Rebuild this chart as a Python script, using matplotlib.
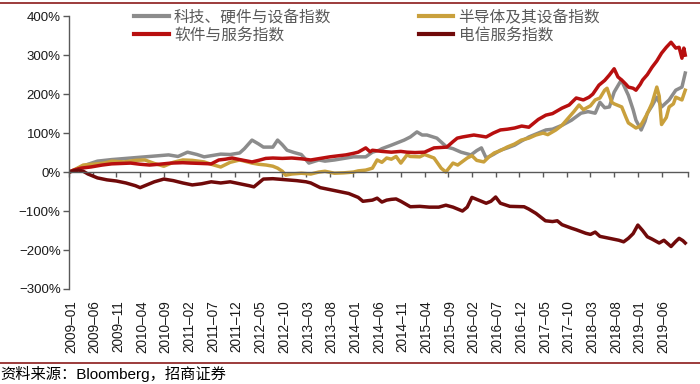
import matplotlib
matplotlib.use("Agg")
import matplotlib.pyplot as plt
import matplotlib.transforms as mtransforms
from matplotlib.lines import Line2D

plt.rcParams['font.family'] = ['Liberation Sans', 'Noto Sans CJK SC']
plt.rcParams['axes.unicode_minus'] = True

# 月份序号（0 = 2009-01）
tick_labels = ['2009–01', '2009–06', '2009–11', '2010–04', '2010–09', '2011–02',
               '2011–07', '2011–12', '2012–05', '2012–10', '2013–03', '2013–08',
               '2014–01', '2014–06', '2014–11', '2015–04', '2015–09', '2016–02',
               '2016–07', '2016–12', '2017–05', '2017–10', '2018–03', '2018–08',
               '2019–01', '2019–06']
tick_pos = [0, 5, 10, 15, 20, 25, 30, 35, 40, 45, 50, 55, 60, 65, 70, 75, 80,
            85, 90, 95, 100, 105, 110, 115, 120, 125]

# 科技、硬件与设备指数
tech_m = [0, 2, 4, 6, 9, 13, 17, 21, 23, 25, 27, 28.5, 30, 32, 34, 36, 37, 38.6,
          40, 41, 43, 44, 45, 46, 47.5, 49, 50.6, 52.7, 54, 56, 58, 60, 62.6, 64,
          65.4, 66, 68, 70.7, 72, 73.4, 74.5, 75.5, 77.6, 79.7, 81, 82.7, 84.8, 86,
          87, 88, 89.5, 91, 92.5, 94, 95.5, 96.6, 97, 99, 100.6, 102, 104, 106,
          108, 109.5, 111, 112, 113, 114, 115, 116.5, 117, 118, 119, 119.6, 120.7,
          121.5, 122, 123, 124, 125, 126.6, 128, 129.3, 130]
tech_v = [0, 10, 20, 28, 32, 36, 40, 44, 40, 51, 45, 39, 42, 46, 45, 49, 60, 82,
          72, 64, 64, 82, 70, 56, 50, 45, 23, 31, 28, 31, 35, 39, 39, 51,
          56, 60, 69, 82, 90, 103, 95, 95, 87, 64, 60, 51, 44, 55,
          62, 36, 45, 56, 62, 69, 80, 87, 90, 100, 108, 110, 120, 133,
          151, 155, 151, 179, 165, 167, 205, 236, 223, 197, 160, 133, 108,
          130, 151, 170, 192, 167, 185, 210, 218, 254]

# 半导体及其设备指数
semi_m = [0, 1, 3, 5, 7.4, 9, 11.6, 14, 16, 18, 20, 22, 24, 26, 28.5, 30, 32, 34,
          36, 37, 38.6, 40, 41.6, 43, 44, 45, 45.7, 47, 49, 51, 52.7, 54, 56, 58,
          60, 61, 62.6, 64, 65, 66, 67, 68, 69, 70, 71.3, 72, 74, 75, 77, 78.5,
          79.5, 81, 82, 84, 85, 86, 87.5, 88.5, 89.7, 91, 92.4, 94, 95.4, 97, 98.5,
          100, 101, 102.7, 104, 105.5, 106.5, 107.6, 108.5, 110, 111, 112, 113,
          113.5, 114.5, 115, 116.6, 117.5, 118, 119, 119.6, 120.5, 121, 122, 123,
          124, 124.5, 125, 126, 126.6, 127.5, 128, 129.3, 130]
semi_v = [0, 5, 18, 20, 23, 28, 26, 30, 31, 22, 15, 25, 31, 30, 26, 20, 13, 25,
          31, 28, 23, 20, 18, 15, 10, 2, -8, -5, -3, -5, 0, 2, -3, -2,
          0, 3, 5, 10, 31, 25, 36, 33, 40, 23, 44, 40, 39, 45, 36, 10,
          0, 23, 18, 36, 42, 30, 26, 38, 49, 55, 64, 72, 82, 87, 95,
          100, 96, 108, 120, 141, 155, 172, 160, 170, 185, 190, 210,
          215, 179, 175, 167, 140, 126, 118, 113, 118, 128, 150, 177,
          218, 195, 122, 140, 167, 175, 192, 185, 210]

# 软件与服务指数
soft_m = [0, 1, 2.5, 4.6, 7, 9, 11, 13, 15, 17, 19, 21.5, 24, 25.7, 28, 30, 31.6,
          33, 34.4, 36, 38.6, 40, 41.5, 43, 45, 47, 49, 51, 53, 55, 57, 58.4, 60,
          61, 62.6, 63.5, 64, 66, 68, 70, 71.3, 73, 75, 77, 79.7, 81, 81.9, 83,
          85.4, 87, 88, 89.5, 91, 92.5, 94, 95.5, 97, 98, 99, 100.6, 102, 104,
          105.5, 107, 108.5, 109.7, 110.5, 111.8, 113, 114, 115, 115.8, 116.6,
          117.5, 118, 119, 119.6, 120.5, 121, 122, 123, 124, 125, 126, 127, 128,
          128.7, 129.3, 129.7, 130]
soft_v = [0, 5, 10, 13, 18, 21, 22, 23, 20, 18, 20, 23, 24, 23, 22, 21, 31,
          33, 36, 32, 26, 30, 35, 36, 35, 36, 34, 31, 35, 39, 42, 44, 48,
          51, 62, 52, 56, 53, 51, 53, 51, 50, 51, 62, 64, 78, 87, 90,
          95, 92, 90, 100, 108, 110, 113, 118, 115, 125, 135, 146, 150, 164,
          172, 190, 185, 192, 200, 223, 235, 249, 265, 244, 236,
          225, 218, 215, 210, 225, 236, 250, 269, 285, 305, 320, 333, 318,
          320, 292, 318, 300]

# 电信服务指数
tele_m = [0, 1, 2, 3, 4, 5, 6, 8, 10, 12, 14, 15, 16, 18, 20, 22, 24, 26, 28, 30,
          32, 34, 36, 38, 39, 40, 41, 43, 44, 46, 48, 50, 51, 53, 55, 57, 59, 61,
          62, 64, 65, 66, 67, 68, 69, 70, 72, 74, 76, 78, 79.5, 81, 83, 84, 85,
          86, 88, 89, 90, 91, 93, 96, 97, 98.5, 100.5, 102, 103, 104, 106, 107,
          109, 110, 111, 112, 114, 116, 117, 118, 119, 120, 121, 122, 123, 124.5,
          125.5, 127, 128, 128.7, 129.5, 130]
tele_v = [0, 3, 5, 2, -5, -10, -15, -20, -23, -28, -35, -40, -35, -25, -18, -22,
          -28, -33, -30, -25, -28, -25, -30, -35, -38, -28, -18, -17, -18, -20,
          -22, -25, -28, -40, -45, -50, -55, -65, -75, -72, -67, -77, -72, -70,
          -69, -75, -89, -88, -90, -90, -85, -90, -100, -90, -65, -70, -80, -75,
          -64, -80, -88, -89, -95, -106, -125, -127, -125, -135, -144, -148,
          -157, -160, -154, -165, -170, -175, -179, -170, -158, -136, -150, -166,
          -172, -182, -175, -191, -178, -170, -176, -182]

fig = plt.figure(figsize=(7.0, 3.84), dpi=100)
ax = fig.add_axes([0.0986, 0.2474, 0.8844, 0.7106])

c_tech = '#8C8C8C'
c_semi = '#C9A03C'
c_soft = '#B80F0F'
c_tele = '#700A0A'
lw = 2.5

ax.plot(tech_m, tech_v, color=c_tech, lw=lw)
ax.plot(semi_m, semi_v, color=c_semi, lw=lw)
ax.plot(soft_m, soft_v, color=c_soft, lw=lw)
ax.plot(tele_m, tele_v, color=c_tele, lw=lw)

ax.set_xlim(0, 130.6)
ax.set_ylim(-300, 400)
ax.set_yticks([-300, -200, -100, 0, 100, 200, 300, 400])
ax.set_yticklabels([f'{v}%'.replace('-', '\u2212') for v in ax.get_yticks().astype(int)],
                   fontsize=9.5, color='#1a1a1a')
ax.tick_params(axis='y', direction='out', length=4, width=1, color='#595959', pad=2)

for s in ['top', 'right']:
    ax.spines[s].set_visible(False)
ax.spines['left'].set_color('#595959')
ax.spines['left'].set_linewidth(1)
ax.spines['bottom'].set_position(('data', 0))
ax.spines['bottom'].set_color('#595959')
ax.spines['bottom'].set_linewidth(1)
ax.set_xticks(tick_pos + [130.6])
ax.tick_params(axis='x', direction='out', length=3.5, width=1, color='#595959',
               labelbottom=False)

trans = mtransforms.blended_transform_factory(ax.transData, fig.transFigure)
for p, lab in zip(tick_pos, tick_labels):
    ax.text(p + 0.4, 1 - 300 / 384, lab, transform=trans, rotation=90,
            ha='center', va='top', fontsize=9.8, color='#1a1a1a')

handles = [Line2D([], [], color=c_tech, lw=3),
           Line2D([], [], color=c_soft, lw=3),
           Line2D([], [], color=c_semi, lw=3),
           Line2D([], [], color=c_tele, lw=3)]
labels = ['科技、硬件与设备指数', '软件与服务指数', '半导体及其设备指数', '电信服务指数']
fig.legend(handles, labels, ncol=2, loc='upper left',
           bbox_to_anchor=(123 / 700, 1 + 2 / 384), frameon=False,
           prop={'family': 'Noto Sans CJK SC', 'size': 11.3},
           labelcolor='#595959', handlelength=2.2, handletextpad=0.35,
           columnspacing=5.55, labelspacing=0.05, borderpad=0.2)

# 顶部与底部分隔线
fig.add_artist(Line2D([0, 1], [1 - 3 / 384, 1 - 3 / 384], color='#8B1A1A', lw=1.2,
                      transform=fig.transFigure))
fig.add_artist(Line2D([0, 1], [1 - 363 / 384, 1 - 363 / 384], color='#8B1A1A', lw=1.2,
                      transform=fig.transFigure))

fig.text(0.0, 1 - 374 / 384, '资料来源：Bloomberg，招商证券', fontsize=11,
         ha='left', va='center', color='#000000')

fig.savefig('out.png', dpi=100)
